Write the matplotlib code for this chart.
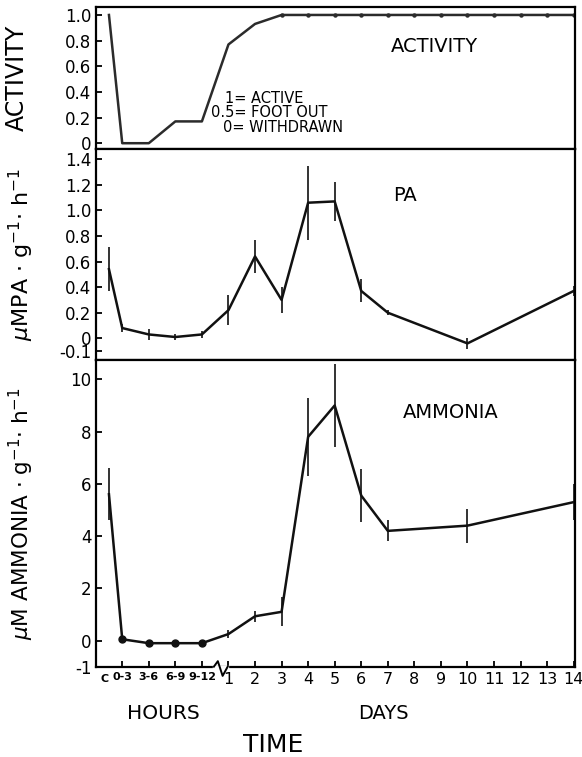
import matplotlib.pyplot as plt
from matplotlib.transforms import blended_transform_factory

plt.rcParams['font.family'] = 'DejaVu Sans'
plt.rcParams['axes.linewidth'] = 1.6

# 时间轴：对照、四个小时段、第1-14天
hour_labels = ['0-3', '3-6', '6-9', '9-12']
day_numbers = list(range(1, 15))

activity_time = ['C', '0-3', '3-6', '6-9', '9-12'] + day_numbers
activity_val = [1.0, 0.0, 0.0, 0.17, 0.17, 0.77, 0.93, 1.0, 1.0, 1.0, 1.0, 1.0,
                1.0, 1.0, 1.0, 1.0, 1.0, 1.0, 1.0]

pa_time = ['C', '0-3', '3-6', '6-9', '9-12', 1, 2, 3, 4, 5, 6, 7, 10, 14]
pa_val = [0.54, 0.08, 0.03, 0.01, 0.03, 0.22, 0.64, 0.30, 1.06, 1.07, 0.37, 0.20, -0.04, 0.37]
pa_err = [0.17, 0.03, 0.04, 0.02, 0.03, 0.12, 0.13, 0.10, 0.29, 0.15, 0.09, 0.02, 0.04, 0.04]

ammonia_time = ['C', '0-3', '3-6', '6-9', '9-12', 1, 2, 3, 4, 5, 6, 7, 10, 14]
ammonia_val = [5.6, 0.05, -0.1, -0.1, -0.1, 0.25, 0.93, 1.1, 7.8, 9.0, 5.55, 4.2, 4.4, 5.3]
ammonia_err = [1.0, 0, 0, 0, 0, 0.15, 0.2, 0.55, 1.5, 1.6, 1.0, 0.4, 0.65, 0.7]


def pos(t):
    # 对照点在第一个小时段左侧，天数接在小时段之后
    if t == 'C':
        return -0.5
    if t in hour_labels:
        return hour_labels.index(t)
    return t + 3


def style_axes(ax, show_x):
    ax.set_xlim(-1.0, 17.05)
    ax.set_xticks([pos(h) for h in hour_labels] + [pos(d) for d in day_numbers])
    ax.tick_params(axis='x', direction='in', length=4 if show_x else 0, width=1.3)
    ax.tick_params(axis='y', direction='in', length=4, width=1.3, labelsize=12, pad=3)
    ax.yaxis.set_label_coords(-0.125, 0.5)


fig = plt.figure(figsize=(5.82, 7.57), dpi=100)
ax1 = fig.add_axes([0.1644, 0.8032, 0.8236, 0.1872])
ax2 = fig.add_axes([0.1644, 0.5244, 0.8236, 0.2788])
ax3 = fig.add_axes([0.1644, 0.1193, 0.8236, 0.4051])

# 活动
ax1.plot([pos(t) for t in activity_time], activity_val, color='#2b2b2b', lw=1.8,
         marker='o', markersize=2.2, markevery=list(range(7, len(activity_time))))
ax1.set_ylim(-0.045, 1.06)
ax1.set_yticks([0, 0.2, 0.4, 0.6, 0.8, 1.0])
ax1.set_yticklabels(['0', '0.2', '0.4', '0.6', '0.8', '1.0'])
ax1.set_ylabel('ACTIVITY', fontsize=17)
ax1.text(0.615, 0.72, 'ACTIVITY', transform=ax1.transAxes, fontsize=14, ha='left', va='center')
ax1.text(0.27, 0.355, '1= ACTIVE', transform=ax1.transAxes, fontsize=10.5, ha='left', va='center')
ax1.text(0.24, 0.255, '0.5= FOOT OUT', transform=ax1.transAxes, fontsize=10.5, ha='left', va='center')
ax1.text(0.266, 0.155, '0= WITHDRAWN', transform=ax1.transAxes, fontsize=10.5, ha='left', va='center')
style_axes(ax1, False)
ax1.set_xticklabels([])
ax1.yaxis.set_label_coords(-0.14, 0.5)

# PA
ax2.errorbar([pos(t) for t in pa_time], pa_val, yerr=pa_err, color='#111111', lw=1.8,
             elinewidth=1.2, capsize=0)
ax2.set_ylim(-0.17, 1.48)
ax2.set_yticks([-0.1, 0, 0.2, 0.4, 0.6, 0.8, 1.0, 1.2, 1.4])
ax2.set_yticklabels(['-0.1', '0', '0.2', '0.4', '0.6', '0.8', '1.0', '1.2', '1.4'])
ax2.set_ylabel(r'$\mu$MPA $\cdot$ g$^{-1}$$\cdot$ h$^{-1}$', fontsize=16)
ax2.text(0.62, 0.78, 'PA', transform=ax2.transAxes, fontsize=14, ha='left', va='center')
style_axes(ax2, False)
ax2.set_xticklabels([])

# 氨
ax3.errorbar([pos(t) for t in ammonia_time], ammonia_val, yerr=ammonia_err, color='#111111',
             lw=1.8, elinewidth=1.2, capsize=0)
ax3.plot([pos(h) for h in hour_labels], ammonia_val[1:5], 'o', color='#111111', markersize=5)
ax3.set_ylim(-1, 10.74)
ax3.set_yticks([-1, 0, 2, 4, 6, 8, 10])
ax3.set_yticklabels(['-1', '0', '2', '4', '6', '8', '10'])
ax3.set_ylabel(r'$\mu$M AMMONIA $\cdot$ g$^{-1}$$\cdot$ h$^{-1}$', fontsize=15.5)
ax3.text(0.64, 0.83, 'AMMONIA', transform=ax3.transAxes, fontsize=14, ha='left', va='center')
style_axes(ax3, True)
ax3.set_xticklabels(hour_labels + [str(d) for d in day_numbers])
for lab in ax3.get_xticklabels()[:4]:
    lab.set_fontsize(8)
    lab.set_fontweight('bold')
for lab in ax3.get_xticklabels()[4:]:
    lab.set_fontsize(11.5)
ax3.tick_params(axis='x', pad=4)
ax3.set_xticks([pos('C')], ['C'], minor=True)
ax3.tick_params(axis='x', which='minor', length=0, labelsize=8, pad=5.5)
for lab in ax3.get_xticklabels(minor=True):
    lab.set_fontweight('bold')
    lab.set_ha('right')

# 坐标轴断开符号
trans = blended_transform_factory(ax3.transData, ax3.transAxes)
ax3.plot([3.47, 3.95], [0.0, 0.0], color='white', lw=2.4, transform=trans, clip_on=False, zorder=3)
ax3.plot([3.45, 3.6, 3.78, 3.97], [0.0, 0.018, -0.03, 0.0], color='black', lw=1.4,
         transform=trans, clip_on=False, zorder=3.5)

fig.text(0.28, 0.058, 'HOURS', fontsize=14.5, ha='center', va='center')
fig.text(0.658, 0.058, 'DAYS', fontsize=14, ha='center', va='center')
fig.text(0.47, 0.016, 'TIME', fontsize=18, ha='center', va='center')

plt.savefig('out.png', dpi=100)
